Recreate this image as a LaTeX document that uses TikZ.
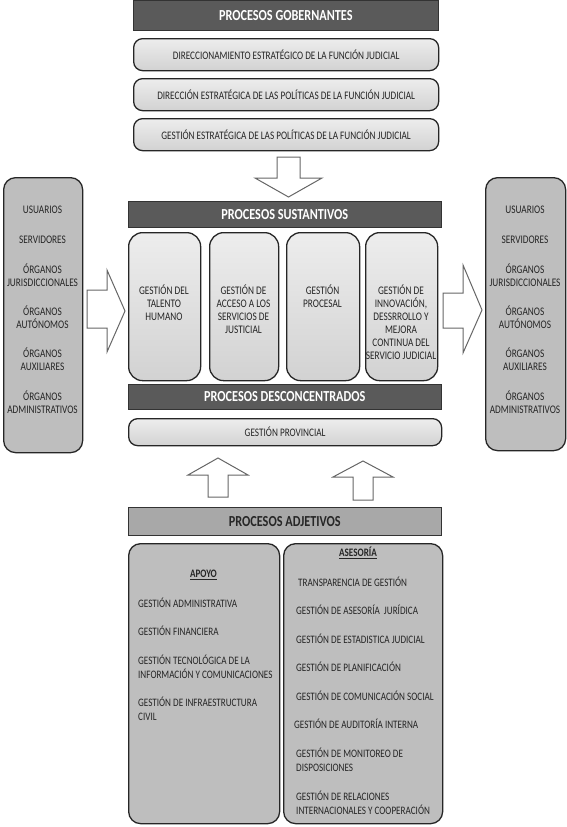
\documentclass[tikz,border=0pt]{standalone}
\usepackage{fontspec}
\setmainfont{Carlito}[FakeStretch=0.8]
\definecolor{hdrdark}{HTML}{5A5A5A}
\definecolor{adjgray}{HTML}{A8A8A8}
\definecolor{sidegray}{HTML}{BEBEBE}
\definecolor{lighttop}{HTML}{EDEDED}
\definecolor{lightbot}{HTML}{D2D2D2}
\definecolor{txtgray}{HTML}{262626}
\begin{document}
\begin{tikzpicture}[x=1pt,y=-1pt,
  hdr/.style={draw=black!80, line width=0.6pt, fill=hdrdark, text=white, anchor=north west, inner sep=0pt,
    font=\bfseries\fontsize{15.3}{17}\selectfont},
  lbox/.style={draw=black!85, line width=1.3pt, rounded corners=9pt, top color=lighttop, bottom color=lightbot,
    anchor=north west, inner sep=0pt, text=txtgray, font=\fontsize{11.5}{13}\selectfont},
  colbox/.style={draw=black!85, line width=1.3pt, rounded corners=14pt, top color=lighttop, bottom color=lightbot,
    anchor=north west, inner sep=0pt},
  gbox/.style={draw=black!85, line width=1.3pt, rounded corners=12pt, fill=sidegray, anchor=north west, inner sep=0pt},
  ctxt/.style={align=center, text=txtgray, inner sep=0pt, font=\fontsize{11.6}{13}\selectfont},
  stxt/.style={align=center, text=txtgray, inner sep=0pt, font=\fontsize{11.6}{13.5}\selectfont},
  ltxt/.style={align=left, anchor=west, text=txtgray, inner sep=0pt, font=\fontsize{11.4}{14}\selectfont},
  barrow/.style={draw=black!60, line width=1pt, fill=white, line join=miter}
]
\useasboundingbox (0,0) rectangle (567,827);
\fill[white] (0,0) rectangle (567,827);

% Procesos gobernantes
\node[hdr, minimum width=305pt, minimum height=30pt] (gob) at (133,0) {PROCESOS GOBERNANTES};
\node[lbox, minimum width=305pt, minimum height=32pt] (g1) at (133,38) {DIRECCIONAMIENTO ESTRATÉGICO DE LA FUNCIÓN JUDICIAL};
\node[lbox, minimum width=305pt, minimum height=32pt] (g2) at (133,78) {DIRECCIÓN ESTRATÉGICA DE LAS POLÍTICAS DE LA FUNCIÓN JUDICIAL};
\node[lbox, minimum width=305pt, minimum height=32pt] (g3) at (133,118) {GESTIÓN ESTRATÉGICA DE LAS POLÍTICAS DE LA FUNCIÓN JUDICIAL};

% down arrow
\draw[barrow] (277,157) -- (300,157) -- (300,178) -- (322,178) -- (288.5,197) -- (255,178) -- (277,178) -- cycle;

% Procesos sustantivos
\node[hdr, minimum width=313pt, minimum height=26pt] (sus) at (128,201) {PROCESOS SUSTANTIVOS};
\node[colbox, minimum width=72pt, minimum height=148pt] (c1) at (128,232) {};
\node[colbox, minimum width=69pt, minimum height=148pt] (c2) at (209,232) {};
\node[colbox, minimum width=73pt, minimum height=148pt] (c3) at (286,232) {};
\node[colbox, minimum width=72pt, minimum height=148pt] (c4) at (365,232) {};
\node[ctxt, anchor=north] (t1) at (164,285) {GESTIÓN DEL\\TALENTO\\HUMANO};
\node[ctxt, anchor=north] (t2) at (243.5,285) {GESTIÓN DE\\ACCESO A LOS\\SERVICIOS DE\\JUSTICIAL};
\node[ctxt, anchor=north] (t3) at (322.5,285) {GESTIÓN\\PROCESAL};
\node[ctxt, anchor=north] (t4) at (401,285) {GESTIÓN DE\\INNOVACIÓN,\\DESSRROLLO Y\\MEJORA\\CONTINUA DEL\\SERVICIO JUDICIAL};

% Procesos desconcentrados
\node[hdr, minimum width=313pt, minimum height=25pt] (des) at (128,384) {PROCESOS DESCONCENTRADOS};
\node[lbox, minimum width=313pt, minimum height=27pt] (prov) at (128,418) {GESTIÓN PROVINCIAL};

% up arrows
\draw[barrow] (208,497) -- (208,475) -- (188,475) -- (218,458) -- (248,475) -- (228,475) -- (228,497) -- cycle;
\draw[barrow] (353,500) -- (353,477) -- (333,477) -- (363,461) -- (393,477) -- (373,477) -- (373,500) -- cycle;

% Procesos adjetivos
\node[hdr, fill=adjgray, text=black!85, minimum width=313pt, minimum height=28pt] (adj) at (128,507) {PROCESOS ADJETIVOS};
\node[gbox, minimum width=151pt, minimum height=280pt] (apoyo) at (128,543) {};
\node[gbox, minimum width=159pt, minimum height=280pt] (ases) at (283,543) {};

\node[ctxt, font=\bfseries\fontsize{11.4}{13}\selectfont] (apt) at (203.5,575) {\underline{APOYO}};
\node[ltxt] (a1) at (138,603) {GESTIÓN ADMINISTRATIVA};
\node[ltxt] (a2) at (138,631) {GESTIÓN FINANCIERA};
\node[ltxt] (a3) at (138,667) {GESTIÓN TECNOLÓGICA DE LA\\INFORMACIÓN Y COMUNICACIONES};
\node[ltxt] (a4) at (138,709) {GESTIÓN DE INFRAESTRUCTURA\\CIVIL};

\node[ctxt, font=\bfseries\fontsize{11.4}{13}\selectfont] (ast) at (358,553) {\underline{ASESORÍA}};
\node[ltxt] (s1) at (298,582) {TRANSPARENCIA DE GESTIÓN};
\node[ltxt] (s2) at (296,610) {GESTIÓN DE ASESORÍA\ \ JURÍDICA};
\node[ltxt] (s3) at (296,639) {GESTIÓN DE ESTADISTICA JUDICIAL};
\node[ltxt] (s4) at (296,667) {GESTIÓN DE PLANIFICACIÓN};
\node[ltxt] (s5) at (296,696) {GESTIÓN DE COMUNICACIÓN SOCIAL};
\node[ltxt] (s6) at (294,724) {GESTIÓN DE AUDITORÍA INTERNA};
\node[ltxt] (s7) at (296,760) {GESTIÓN DE MONITOREO DE\\DISPOSICIONES};
\node[ltxt] (s8) at (296,803) {GESTIÓN DE RELACIONES\\INTERNACIONALES Y COOPERACIÓN};

% side boxes
\node[gbox, minimum width=79pt, minimum height=275pt] (left) at (3,177) {};
\node[gbox, minimum width=80pt, minimum height=273pt] (right) at (485,177) {};
\foreach \cx/\nm in {42.5/L,525/R}{
  \node[stxt] (\nm u) at (\cx,210) {USUARIOS};
  \node[stxt] (\nm s) at (\cx,240) {SERVIDORES};
  \node[stxt] (\nm j) at (\cx,275) {ÓRGANOS\\JURISDICCIONALES};
  \node[stxt] (\nm a) at (\cx,317) {ÓRGANOS\\AUTÓNOMOS};
  \node[stxt] (\nm x) at (\cx,359) {ÓRGANOS\\AUXILIARES};
  \node[stxt] (\nm d) at (\cx,402) {ÓRGANOS\\ADMINISTRATIVOS};
}

% side arrows
\draw[barrow] (87,290) -- (107,290) -- (107,270) -- (125,311) -- (107,352) -- (107,328) -- (87,328) -- cycle;
\draw[barrow] (443,293) -- (463,293) -- (463,265) -- (482,310) -- (463,353) -- (463,328) -- (443,328) -- cycle;
\end{tikzpicture}
\end{document}
